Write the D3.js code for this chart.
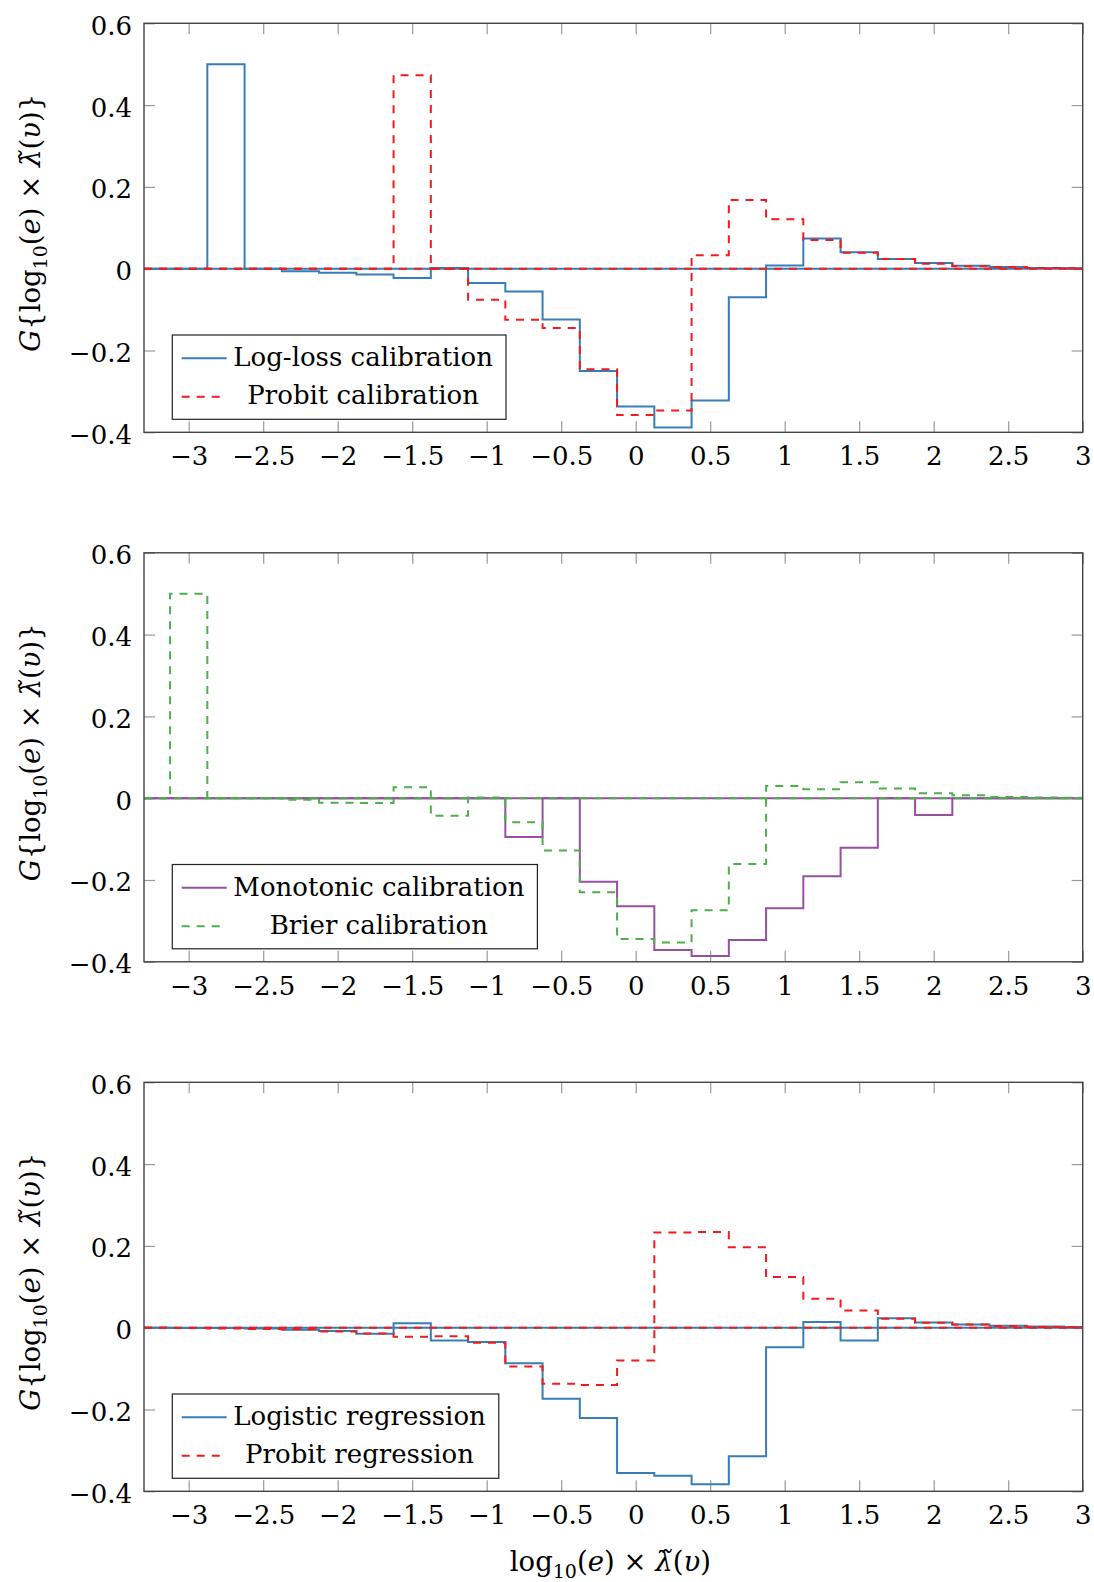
<!DOCTYPE html>
<html>
<head>
<meta charset="utf-8">
<script src="https://cdn.jsdelivr.net/npm/d3@7"></script>
<style>
  body { margin: 0; background: #fff; }
  svg text { font-family: "DejaVu Serif", serif; fill: #000; }
</style>
</head>
<body>
<svg id="fig" width="1094" height="1582"></svg>
<script>
// Histogram bins (centres, width 0.25) and per-method values
const binCenters = [-3, -2.75, -2.5, -2.25, -2, -1.75, -1.5, -1.25, -1, -0.75, -0.5, -0.25,
                    0, 0.25, 0.5, 0.75, 1, 1.25, 1.5, 1.75, 2, 2.25, 2.5, 2.75, 3];
const binWidth = 0.25;

const logLossCal = [0, 0.5, 0, -0.006, -0.01, -0.014, -0.023, 0.002, -0.035, -0.056, -0.124, -0.25,
                    -0.337, -0.388, -0.322, -0.07, 0.008, 0.074, 0.04, 0.024, 0.014, 0.007, 0.004, 0.002, 0.001];
const probitCal  = [0, 0, 0, 0, 0, 0, 0.473, 0, -0.076, -0.125, -0.145, -0.246,
                    -0.358, -0.347, 0.033, 0.168, 0.121, 0.07, 0.039, 0.024, 0.012, 0.006, 0.004, 0.002, 0.001];
const monotonicCal = [0, 0, 0, 0, 0, 0, 0, 0, 0, -0.095, 0, -0.204,
                    -0.264, -0.371, -0.386, -0.347, -0.269, -0.191, -0.121, 0, -0.041, 0, 0, 0, 0];
const brierCal   = [0.5, 0, 0, -0.004, -0.011, -0.012, 0.027, -0.043, 0.002, -0.059, -0.128, -0.23,
                    -0.344, -0.353, -0.274, -0.161, 0.03, 0.022, 0.039, 0.024, 0.012, 0.007, 0.003, 0.002, 0.001];
const logisticReg = [-0.001, -0.001, -0.002, -0.005, -0.008, -0.015, 0.011, -0.031, -0.035, -0.087, -0.174, -0.221,
                    -0.355, -0.362, -0.383, -0.314, -0.048, 0.014, -0.031, 0.023, 0.013, 0.008, 0.005, 0.003, 0.002];
const probitReg  = [-0.001, -0.002, -0.003, -0.004, -0.009, -0.014, -0.022, -0.021, -0.037, -0.095, -0.137, -0.14,
                    -0.08, 0.233, 0.234, 0.197, 0.124, 0.071, 0.042, 0.022, 0.012, 0.008, 0.004, 0.002, 0.001];

const xTicks = [-3, -2.5, -2, -1.5, -1, -0.5, 0, 0.5, 1, 1.5, 2, 2.5, 3];
const yTicks = [-0.4, -0.2, 0, 0.2, 0.4, 0.6];
const xDomain = [-3.3, 3];
const yDomain = [-0.4, 0.6];

const BLUE = "#377eb8", RED = "#f21b1b", GREEN = "#4daf4a", PURPLE = "#984ea3";
const DASH = "8,7";

const panels = [
  [ { name: "Log-loss calibration", values: logLossCal, color: BLUE, dash: null },
    { name: "Probit calibration",   values: probitCal,  color: RED,  dash: DASH } ],
  [ { name: "Monotonic calibration", values: monotonicCal, color: PURPLE, dash: null },
    { name: "Brier calibration",     values: brierCal,     color: GREEN,  dash: DASH } ],
  [ { name: "Logistic regression", values: logisticReg, color: BLUE, dash: null },
    { name: "Probit regression",   values: probitReg,   color: RED,  dash: DASH } ]
];

// layout
const plotLeft = 144, plotRight = 1082.7, plotH = 409;
const panelTops = [23.3, 552.8, 1082.3];
const FS = 26, TITLE_FS = 27.5, SUB_FS = 19;

const svg = d3.select("#fig");
const fmt = v => (v < 0 ? "\u2212" : "") + Math.abs(v);

const x = d3.scaleLinear().domain(xDomain).range([plotLeft, plotRight]);

// math-style title: log10(e) × λ̃(υ), optionally wrapped as G{...}
function mathLabel(t, wrapG) {
  if (wrapG) {
    t.append("tspan").attr("font-style", "italic").text("G");
    t.append("tspan").text("{");
  }
  t.append("tspan").text("log");
  t.append("tspan").attr("font-size", SUB_FS).attr("dy", 7).text("10");
  t.append("tspan").attr("dy", -7).text("(");
  t.append("tspan").attr("font-style", "italic").text("e");
  t.append("tspan").text(") \u00d7 ");
  t.append("tspan").attr("font-style", "italic").text("\u03bb\u0303");
  t.append("tspan").text("(");
  t.append("tspan").attr("font-style", "italic").text("\u03c5");
  t.append("tspan").text(wrapG ? ")}" : ")");
}

panels.forEach((series, pi) => {
  const top = panelTops[pi];
  const y = d3.scaleLinear().domain(yDomain).range([top + plotH, top]);
  const g = svg.append("g");

  const clipId = "clip" + pi;
  svg.append("clipPath").attr("id", clipId)
    .append("rect").attr("x", plotLeft).attr("y", top)
    .attr("width", plotRight - plotLeft).attr("height", plotH);

  // inward ticks on all four sides
  const tickStyle = sel => {
    sel.select(".domain").remove();
    sel.selectAll(".tick line").attr("stroke", "#9a9a9a").attr("stroke-width", 1.2);
    sel.selectAll(".tick text").attr("font-size", FS).attr("font-family", "DejaVu Serif");
  };
  g.append("g").attr("transform", `translate(0,${top + plotH})`)
    .call(d3.axisBottom(x).tickValues(xTicks).tickFormat(fmt).tickSizeInner(-11).tickSizeOuter(0).tickPadding(14.5))
    .call(tickStyle);
  g.append("g").attr("transform", `translate(0,${top})`)
    .call(d3.axisTop(x).tickValues(xTicks).tickFormat("").tickSizeInner(-11).tickSizeOuter(0))
    .call(tickStyle);
  g.append("g").attr("transform", `translate(${plotLeft},0)`)
    .call(d3.axisLeft(y).tickValues(yTicks).tickFormat(fmt).tickSizeInner(-11).tickSizeOuter(0).tickPadding(12))
    .call(tickStyle)
    .call(s => s.selectAll(".tick text").attr("dy", "0.42em"));
  g.append("g").attr("transform", `translate(${plotRight},0)`)
    .call(d3.axisRight(y).tickValues(yTicks).tickFormat("").tickSizeInner(-11).tickSizeOuter(0))
    .call(tickStyle);

  // series: zero baseline + step outline
  const plotG = g.append("g").attr("clip-path", `url(#${clipId})`);
  const line = d3.line().x(d => x(d.x)).y(d => y(d.y)).curve(d3.curveStepAfter);
  series.forEach(s => {
    plotG.append("line")
      .attr("x1", x(xDomain[0])).attr("x2", x(xDomain[1]))
      .attr("y1", y(0)).attr("y2", y(0))
      .attr("stroke", s.color).attr("stroke-width", 2)
      .attr("stroke-dasharray", s.dash);
    const pts = [{ x: xDomain[0], y: 0 }];
    binCenters.forEach((c, i) => pts.push({ x: c - binWidth / 2, y: s.values[i] }));
    const last = binCenters.length - 1;
    pts.push({ x: binCenters[last] + binWidth / 2, y: s.values[last] });
    plotG.append("path").datum(pts)
      .attr("d", line)
      .attr("fill", "none")
      .attr("stroke", s.color).attr("stroke-width", 2)
      .attr("stroke-dasharray", s.dash)
      .attr("stroke-linejoin", "miter");
  });

  // frame
  g.append("rect").attr("x", plotLeft).attr("y", top)
    .attr("width", plotRight - plotLeft).attr("height", plotH)
    .attr("fill", "none").attr("stroke", "#444").attr("stroke-width", 1.4);

  // legend
  const lg = g.append("g").attr("transform", `translate(${plotLeft + 28.3},${top + 311.7})`);
  const box = lg.append("rect").attr("fill", "#fff").attr("stroke", "#222").attr("stroke-width", 1.2);
  const rowY = [23.3, 61.7];
  const texts = series.map((s, i) => lg.append("text")
    .attr("y", rowY[i] + 7.7).attr("font-size", FS).attr("text-anchor", "middle").text(s.name));
  const maxW = d3.max(texts, t => t.node().getComputedTextLength());
  const textX = 9.4 + 45 + 6.6 + maxW / 2;
  texts.forEach(t => t.attr("x", textX));
  series.forEach((s, i) => {
    lg.append("line").attr("x1", 9.4).attr("x2", 54.4)
      .attr("y1", rowY[i]).attr("y2", rowY[i])
      .attr("stroke", s.color).attr("stroke-width", 2)
      .attr("stroke-dasharray", s.dash);
  });
  box.attr("x", 0).attr("y", 0).attr("width", maxW + 74).attr("height", 84.3);
  lg.node().insertBefore(box.node(), lg.node().firstChild);

  // y-axis title
  const yl = g.append("text")
    .attr("transform", `translate(40,${top + plotH / 2 - 5}) rotate(-90)`)
    .attr("text-anchor", "middle").attr("font-size", TITLE_FS);
  mathLabel(yl, true);
});

// x-axis title under the last panel
const xl = svg.append("text")
  .attr("x", (plotLeft + plotRight) / 2 - 3).attr("y", panelTops[2] + plotH + 80)
  .attr("text-anchor", "middle").attr("font-size", TITLE_FS);
mathLabel(xl, false);
</script>
</body>
</html>
